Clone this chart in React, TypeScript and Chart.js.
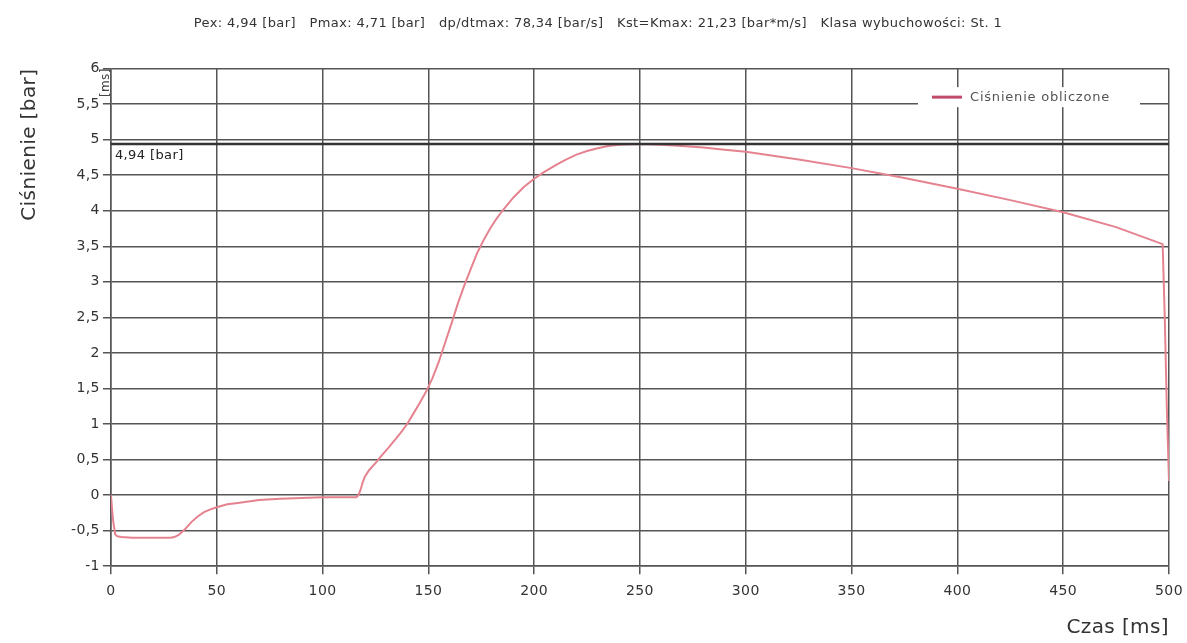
import React, { useEffect, useRef } from "react";
import { Chart, registerables } from "chart.js";

Chart.register(...registerables);

const chartTitle =
  "Pex: 4,94 [bar]   Pmax: 4,71 [bar]   dp/dtmax: 78,34 [bar/s]   Kst=Kmax: 21,23 [bar*m/s]   Klasa wybuchowości: St. 1";
const seriesLabel = "Ciśnienie obliczone";
const xTitle = "Czas [ms]";
const yTitle = "Ciśnienie [bar]";
const pexValue = 4.94;
const pexLabel = "4,94 [bar]";
const cornerLabel = "[ms]";

const timeMs = [
  0, 1, 2, 3, 5, 10, 20, 28, 30, 32, 35, 38, 41, 44, 47, 50, 55, 60, 65, 70,
  80, 90, 100, 116, 117, 118, 119, 120, 122, 125, 128, 131, 134, 137, 140, 143,
  146, 149, 152, 155, 158, 161, 164, 167, 170, 173, 176, 179, 182, 185, 190,
  195, 200, 205, 210, 215, 220, 225, 230, 235, 240, 250, 260, 270, 280, 290,
  300, 325, 350, 375, 400, 425, 450, 475, 497, 498, 499, 500,
];
const pressureBar = [
  0, -0.35, -0.55, -0.58, -0.59, -0.6, -0.6, -0.6, -0.59, -0.56, -0.48, -0.38,
  -0.3, -0.24, -0.2, -0.17, -0.13, -0.11, -0.09, -0.07, -0.05, -0.04, -0.03,
  -0.03, 0, 0.08, 0.18, 0.26, 0.35, 0.45, 0.56, 0.66, 0.77, 0.88, 1.0, 1.15,
  1.3, 1.46, 1.65, 1.88, 2.15, 2.42, 2.7, 2.95, 3.18, 3.4, 3.58, 3.74, 3.88,
  4.0, 4.18, 4.33, 4.45, 4.55, 4.64, 4.72, 4.79, 4.84, 4.88, 4.91, 4.93, 4.94,
  4.93, 4.91, 4.89, 4.86, 4.83, 4.72, 4.6, 4.46, 4.31, 4.15, 3.98, 3.77, 3.53,
  2.5, 1.2, 0.2,
];

const xTicksMin = 0;
const xTicksMax = 500;
const xStep = 50;
const yMin = -1;
const yMax = 6;
const yStep = 0.5;

const lineColor = "#e5828f";
const gridColor = "#555555";
const fontFamily = "'DejaVu Sans', sans-serif";

export default function App() {
  const ref = useRef<HTMLCanvasElement | null>(null);

  useEffect(() => {
    document.body.style.margin = "0";
    const canvas = ref.current;
    if (!canvas) return;

    const overlay = {
      id: "overlay",
      afterDatasetsDraw(chart: any) {
        const { ctx, chartArea, scales } = chart;
        const y = scales.y.getPixelForValue(pexValue);
        ctx.save();
        ctx.strokeStyle = "#333333";
        ctx.lineWidth = 2.5;
        ctx.beginPath();
        ctx.moveTo(chartArea.left, y);
        ctx.lineTo(chartArea.right, y);
        ctx.stroke();
        ctx.fillStyle = "#222222";
        ctx.font = `13px ${fontFamily}`;
        ctx.textAlign = "left";
        ctx.textBaseline = "middle";
        ctx.fillText(pexLabel, chartArea.left + 4, y + 12);

        ctx.save();
        ctx.translate(chartArea.left - 5, chartArea.top + 14);
        ctx.rotate(-Math.PI / 2);
        ctx.font = `12px ${fontFamily}`;
        ctx.textAlign = "center";
        ctx.textBaseline = "middle";
        ctx.fillStyle = "#444";
        ctx.fillText(cornerLabel, 0, 0);
        ctx.restore();

        const ly = scales.y.getPixelForValue(5.5) - 7;
        const lx = chartArea.right - 251;
        ctx.fillStyle = "#ffffff";
        ctx.fillRect(lx, ly - 10, 222, 20);
        ctx.strokeStyle = "#c24a6b";
        ctx.lineWidth = 3;
        ctx.beginPath();
        ctx.moveTo(lx + 14, ly);
        ctx.lineTo(lx + 44, ly);
        ctx.stroke();
        ctx.fillStyle = "#555555";
        ctx.font = `13px ${fontFamily}`;
        (ctx as any).letterSpacing = "0.8px";
        ctx.textAlign = "left";
        ctx.textBaseline = "middle";
        ctx.fillText(seriesLabel, lx + 52, ly);
        ctx.restore();
      },
    };

    const chart = new Chart(canvas, {
      type: "line",
      data: {
        datasets: [
          {
            label: seriesLabel,
            data: timeMs.map((t, i) => ({ x: t, y: pressureBar[i] })),
            borderColor: lineColor,
            backgroundColor: lineColor,
            borderWidth: 2,
            pointRadius: 0,
            tension: 0,
          },
        ],
      },
      options: {
        animation: false,
        responsive: false,
        maintainAspectRatio: false,
        layout: { padding: { left: 18, right: 9, top: 4, bottom: 3 } },
        plugins: {
          legend: { display: false },
          tooltip: { enabled: false },
          title: {
            display: true,
            text: chartTitle,
            color: "#333333",
            font: { family: fontFamily, size: 13, weight: "normal" },
            padding: { top: 12, bottom: 37 },
          },
        },
        scales: {
          x: {
            type: "linear",
            min: xTicksMin,
            max: xTicksMax,
            afterFit: (s: any) => {
              s.paddingRight = 18;
            },
            ticks: {
              stepSize: xStep,
              color: "#333333",
              font: { family: fontFamily, size: 14 },
              padding: 9,
            },
            grid: { color: gridColor, lineWidth: 1.5, tickLength: 8 },
            border: { color: gridColor, width: 1.5 },
            title: {
              display: true,
              text: xTitle,
              align: "end",
              color: "#333333",
              font: { family: fontFamily, size: 20 },
              padding: { top: 7, bottom: 0 },
            },
          },
          y: {
            type: "linear",
            min: yMin,
            max: yMax,
            ticks: {
              stepSize: yStep,
              color: "#333333",
              font: { family: fontFamily, size: 14 },
              padding: 3,
              callback: (v: any) => String(v).replace(".", ","),
            },
            grid: { color: gridColor, lineWidth: 1.5, tickLength: 8 },
            border: { color: gridColor, width: 1.5 },
            title: {
              display: true,
              text: yTitle,
              align: "end",
              color: "#333333",
              font: { family: fontFamily, size: 20 },
              padding: { top: 0, bottom: 26 },
            },
          },
        },
      },
      plugins: [overlay],
    } as any);

    return () => chart.destroy();
  }, []);

  return (
    <div style={{ width: 1187, height: 643, background: "#fff" }}>
      <canvas ref={ref} width={1187} height={643} style={{ display: "block", letterSpacing: "0.4px" }} />
    </div>
  );
}
